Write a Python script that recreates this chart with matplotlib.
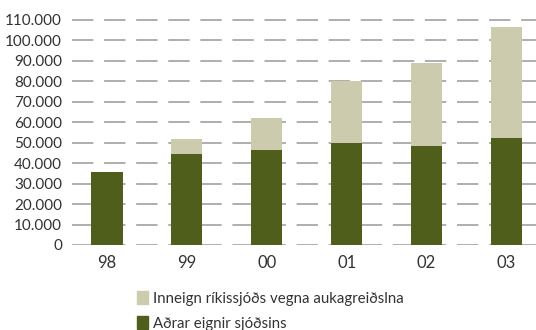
import matplotlib
matplotlib.use("Agg")
import matplotlib.pyplot as plt
import matplotlib.patches as mpatches
from matplotlib.ticker import FuncFormatter

# Gögn (milljónir kr.)
years = ["98", "99", "00", "01", "02", "03"]
adrar_eignir = [35700, 44500, 46500, 49900, 48400, 52300]
inneign_rikissjods = [0, 7300, 15600, 30300, 40600, 54300]

label_inneign = "Inneign ríkissjóðs vegna aukagreiðslna"
label_adrar = "Aðrar eignir sjóðsins"

DARK = "#4f5e1a"
LIGHT = "#cccbad"
TEXT = "#333333"
GRID = "#999999"

plt.rcParams["font.family"] = ["Lato", "DejaVu Sans"]

fig = plt.figure(figsize=(5.36, 3.30), dpi=100)
ax = fig.add_axes([0.134, 0.2576, 0.866, 0.689])

x = range(len(years))
ax.bar(x, adrar_eignir, width=0.39, color=DARK, zorder=3)
ax.bar(x, inneign_rikissjods, width=0.39, bottom=adrar_eignir, color=LIGHT, zorder=3)

ax.set_ylim(0, 111000)
ax.set_xlim(-0.44, 5.37)
ax.set_yticks(range(0, 110001, 10000))
ax.yaxis.set_major_formatter(FuncFormatter(lambda v, p: f"{int(v):,}".replace(",", ".")))
ax.set_xticks(list(x))
ax.set_xticklabels(years)

ax.yaxis.grid(True, color=GRID, linewidth=1.1, linestyle=(0, (14, 7)), zorder=1)
for s in ax.spines.values():
    s.set_visible(False)
ax.tick_params(axis="both", length=0, labelsize=11, labelcolor=TEXT)
ax.tick_params(axis="y", pad=7)
ax.tick_params(axis="x", pad=7, labelsize=12)

handles = [mpatches.Patch(color=LIGHT, label=label_inneign),
           mpatches.Patch(color=DARK, label=label_adrar)]
fig.legend(handles=handles, loc="upper left", bbox_to_anchor=(0.256, 0.118),
           frameon=False, fontsize=10.8, handlelength=0.75, handleheight=0.95,
           handletextpad=0.3, labelspacing=0.7, borderpad=0, borderaxespad=0,
           labelcolor=TEXT)

fig.savefig("out.png", dpi=100, facecolor="white")
